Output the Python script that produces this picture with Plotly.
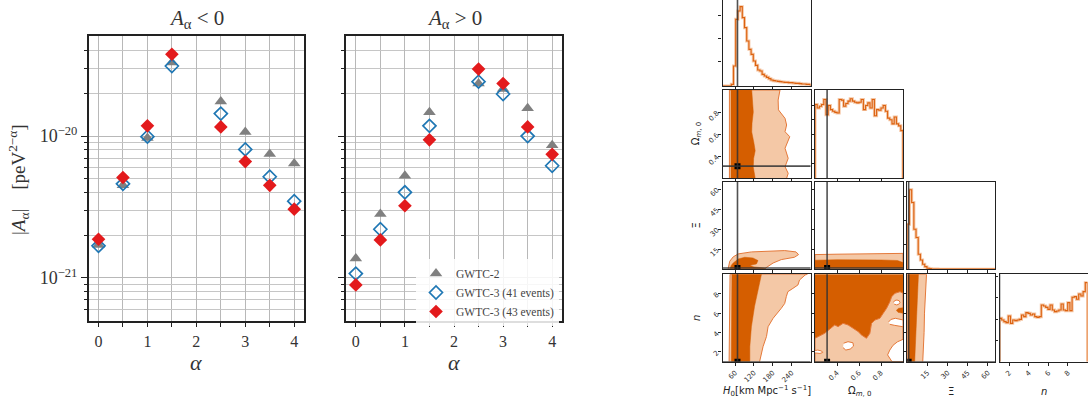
import plotly.graph_objects as go

# ================= data: left panels (amplitude bounds) =================
alpha = [0, 0.5, 1, 1.5, 2.5, 3, 3.5, 4]
neg_gwtc2 = [1.70e-21, 4.50e-21, 9.70e-21, 3.30e-20, 1.75e-20, 1.07e-20, 7.46e-21, 6.40e-21]
neg_gwtc3_41 = [1.68e-21, 4.60e-21, 9.90e-21, 3.12e-20, 1.44e-20, 8.05e-21, 5.16e-21, 3.47e-21]
neg_gwtc3_43 = [1.87e-21, 5.10e-21, 1.18e-20, 3.78e-20, 1.16e-20, 6.60e-21, 4.49e-21, 3.05e-21]
pos_gwtc2 = [1.37e-21, 2.82e-21, 5.25e-21, 1.47e-20, 2.35e-20, 2.15e-20, 1.57e-20, 8.60e-21]
pos_gwtc3_41 = [1.07e-21, 2.20e-21, 4.01e-21, 1.18e-20, 2.42e-20, 1.98e-20, 1.00e-20, 6.17e-21]
pos_gwtc3_43 = [8.90e-22, 1.85e-21, 3.22e-21, 9.40e-21, 2.97e-20, 2.35e-20, 1.16e-20, 7.43e-21]
series_labels = ["GWTC-2", "GWTC-3 (41 events)", "GWTC-3 (43 events)"]
panel_titles = ["<i>A</i><sub>α</sub> &lt; 0", "<i>A</i><sub>α</sub> &gt; 0"]
alpha_ticks = [0, 1, 2, 3, 4]
amp_major = [1e-21, 1e-20]
amp_major_text = ["10<sup>−21</sup>", "10<sup>−20</sup>"]
amp_minor = [6e-22, 7e-22, 8e-22, 9e-22, 2e-21, 3e-21, 4e-21, 5e-21, 6e-21, 7e-21,
             8e-21, 9e-21, 2e-20, 3e-20, 4e-20]

# ================= data: corner plot =================
param_ranges = {"H0": [20, 300], "Om": [0.2, 1.0], "Xi": [0, 65.5], "n": [1, 10]}
param_ticks = {"H0": [60, 120, 180, 240], "Om": [0.4, 0.6, 0.8], "Xi": [15, 30, 45, 60], "n": [2, 4, 6, 8]}
param_ticktext = {"H0": ["60", "120", "180", "240"], "Om": ["0.4", "0.6", "0.8"],
                  "Xi": ["15", "30", "45", "60"], "n": ["2", "4", "6", "8"]}
param_labels = {"H0": "<i>H</i><sub>0</sub>[km Mpc<sup>−1</sup> s<sup>−1</sup>]",
                "Om": "Ω<sub><i>m</i>, 0</sub>", "Xi": "Ξ", "n": "<i>n</i>"}
truth = {"H0": 67.7, "Om": 0.31, "Xi": 1.0, "n": 1.0}

hist_start = {"H0": 20, "Om": 0.2, "Xi": 0.0, "n": 1.0}
hist_width = {"H0": 7, "Om": 0.02, "Xi": 1.625, "n": 0.225}
h0_hist = [0, 0, 0, 0, 5, 60, 200, 225, 238, 205, 175, 135, 110, 95, 75, 62, 48, 45, 35, 30,
           26, 22, 18, 16, 15, 14, 13, 12, 11, 11, 10, 10, 9, 8, 8, 7, 6, 6, 5, 5]
om_hist = [218, 208, 213, 218, 233, 188, 215, 203, 198, 195, 193, 233, 231, 213, 221, 228, 235, 228, 225, 223,
           225, 233, 203, 215, 223, 208, 233, 185, 203, 201, 208, 215, 198, 178, 173, 161, 181, 161, 155, 141]
xi_hist = [135, 238, 200, 120, 95, 45, 28, 15, 8, 3, 2, 1, 1, 1, 0.5, 0.5, 0.5, 0.5, 0.5, 0.5,
           0.5, 0.5, 0.5, 0.5, 0.5, 0.5, 0.5, 0.5, 0.5, 0.5, 0.5, 0.5, 0.5, 0.5, 0.5, 0.5, 0.5, 0.5, 0.5, 0.5]
n_hist = [130, 125, 120, 117, 137, 115, 125, 123, 125, 127, 140, 135, 147, 145, 140, 143, 135, 133, 135, 170,
          167, 163, 157, 170, 155, 150, 152, 155, 173, 155, 153, 177, 153, 193, 195, 187, 203, 197, 210, 237]
hist_counts = {"H0": h0_hist, "Om": om_hist, "Xi": xi_hist, "n": n_hist}
hist_ymax = {"H0": 258, "Om": 261, "Xi": 262, "n": 262}
hist_yticks = {"H0": [73, 143, 213], "Om": [43, 86, 130, 173, 215], "Xi": [73, 145, 218], "n": [65, 127, 192, 255]}

# 2D credible regions (outer = light, inner = dark)
h0_om_light_x = [42, 42, 203, 200, 197, 198, 219, 224, 219, 234, 224, 219, 229, 219, 229, 224]
h0_om_light_y = [0.2, 1.0, 1.0, 0.95, 0.909, 0.82, 0.743, 0.683, 0.622, 0.577, 0.517, 0.472, 0.381, 0.305, 0.245, 0.2]
h0_om_dark_x = [47, 47, 113, 116, 118, 114, 113, 120, 124, 119, 118, 124]
h0_om_dark_y = [0.2, 1.0, 1.0, 0.9, 0.8, 0.7, 0.62, 0.52, 0.45, 0.38, 0.3, 0.2]

h0_xi_light_x = [38, 43, 54, 70, 112, 165, 218, 254, 262, 249, 207, 181, 165, 154]
h0_xi_light_y = [0.45, 6.0, 9.3, 11.5, 13.0, 13.3, 14.0, 13.0, 11.0, 9.0, 7.25, 4.7, 2.2, 0.45]
h0_xi_dark_x = [44, 48, 54, 70, 91, 117, 133, 128, 107, 120, 150, 158]
h0_xi_dark_y = [0.45, 3.0, 4.7, 7.75, 9.0, 8.5, 6.5, 4.0, 3.0, 1.8, 1.0, 0.45]

om_xi_light_x = [0.2, 0.2, 0.4, 0.6, 0.8, 1.0, 1.0]
om_xi_light_y = [0.3, 11.0, 11.3, 11.6, 11.8, 11.9, 0.3]
om_xi_dark_x = [0.2, 0.2, 0.4, 0.6, 0.8, 0.95, 0.99, 1.0, 1.0]
om_xi_dark_y = [0.6, 6.8, 7.2, 7.3, 7.0, 6.6, 5.5, 5.0, 0.6]

h0_n_light_x = [41, 44, 290, 283, 265, 260, 244, 228, 223, 218, 207, 191, 181, 165, 160, 149, 140, 138]
h0_n_light_y = [1.0, 10.0, 10.0, 9.93, 9.41, 8.9, 8.55, 8.21, 7.7, 7.0, 6.5, 5.8, 5.47, 4.6, 3.6, 2.55, 1.5, 1.0]
h0_n_dark_x = [48, 50, 144, 133, 122, 112, 107, 107]
h0_n_dark_y = [1.0, 10.0, 10.0, 8.4, 6.7, 4.6, 2.55, 1.0]

om_n_dark_x = [0.2, 0.2, 1.0, 1.0]
om_n_dark_y = [1.0, 10.0, 10.0, 1.0]
om_n_light_x = [0.2, 0.2, 0.288, 0.349, 0.379, 0.41, 0.455, 0.501, 0.547, 0.592, 0.623, 0.668, 0.699,
                0.714, 0.745, 0.79, 0.82, 0.851, 0.881, 0.897, 0.927, 0.973, 1.0, 1.0]
om_n_light_y = [1.0, 3.41, 3.92, 4.44, 4.78, 4.61, 4.95, 4.78, 4.44, 4.1, 3.75, 3.41, 3.92,
                4.95, 5.29, 5.47, 5.98, 6.5, 7.18, 7.7, 8.04, 8.21, 8.04, 1.0]
om_n_finger_x = [1.0, 0.955, 0.94, 0.96, 1.0]
om_n_finger_y = [6.0, 6.08, 6.3, 6.5, 6.55]
om_n_holes_x = [
    [0.913, 0.925, 0.945, 0.965, 0.973, 0.96, 0.94, 0.92],
    [0.87, 0.89, 0.93, 0.97, 1.0, 1.0, 0.96, 0.92, 0.88],
    [1.0, 0.95, 0.91, 0.88, 0.86, 0.88, 0.9, 1.0],
    [0.46, 0.5, 0.545, 0.55, 0.52, 0.48, 0.455],
    [0.2, 0.225, 0.26, 0.27, 0.245, 0.2],
]
om_n_holes_y = [
    [7.1, 7.3, 7.35, 7.28, 7.1, 6.9, 6.85, 6.93],
    [5.1, 5.35, 5.47, 5.4, 5.3, 4.6, 4.65, 4.75, 4.85],
    [3.3, 3.05, 2.7, 2.2, 1.7, 1.3, 1.0, 1.0],
    [2.9, 3.06, 2.95, 2.6, 2.3, 2.2, 2.45],
    [2.15, 2.2, 2.1, 1.95, 1.85, 1.9],
]

xi_n_light_x = [0.0, 0.0, 14.3, 13.5, 12.8, 12.5, 12.0, 11.5]
xi_n_light_y = [1.0, 10.0, 10.0, 8.0, 6.0, 4.0, 2.0, 1.0]
xi_n_dark_x = [0.5, 0.5, 8.3, 7.6, 6.8, 6.2, 5.7, 5.5]
xi_n_dark_y = [1.0, 10.0, 10.0, 8.0, 6.0, 4.0, 2.0, 1.0]

# ================= styling =================
W, H = 1088, 398
SERIF = "Liberation Serif"
SANS = "DejaVu Sans"
GRAY, BLUE, RED = "#808080", "#1f77b4", "#e31a1c"
DARK, LIGHT, EDGE = "#d55e00", "#f4c8a6", "#e4793a"
HLINE, HBAND = "#dc6210", "#f5c6a4"


def fx(px):
    return px / W


def fy(py):
    return 1 - py / H


fig = go.Figure()
layout = dict(width=W, height=H, margin=dict(l=0, r=0, t=0, b=0),
              paper_bgcolor="white", plot_bgcolor="white", showlegend=True)
annotations = []
shapes = []


def add_text(text, px, py, size, family, angle=0, color="#333"):
    annotations.append(dict(text=text, x=fx(px), y=fy(py), xref="paper", yref="paper",
                            xanchor="center", yanchor="middle", showarrow=False, textangle=angle,
                            font=dict(family=family, size=size, color=color)))


# ---------------- left panels ----------------
left_dom_x = [[88.7, 304.0], [346.0, 562.0]]
left_dom_y = [fy(320.7), fy(36.0)]
panel_data = [(neg_gwtc2, neg_gwtc3_41, neg_gwtc3_43), (pos_gwtc2, pos_gwtc3_41, pos_gwtc3_43)]
for p in range(2):
    sfx = "" if p == 0 else "2"
    g2, g41, g43 = panel_data[p]
    show = p == 1
    fig.add_trace(go.Scatter(x=alpha, y=g2, mode="markers", name=series_labels[0], showlegend=show,
                             marker=dict(symbol="triangle-up", size=11, color=GRAY),
                             xaxis="x" + sfx, yaxis="y" + sfx))
    fig.add_trace(go.Scatter(x=alpha, y=g41, mode="markers", name=series_labels[1], showlegend=show,
                             marker=dict(symbol="diamond-open", size=10, color=BLUE, line=dict(width=1.7, color=BLUE)),
                             xaxis="x" + sfx, yaxis="y" + sfx))
    fig.add_trace(go.Scatter(x=alpha, y=g43, mode="markers", name=series_labels[2], showlegend=show,
                             marker=dict(symbol="diamond", size=10.5, color=RED),
                             xaxis="x" + sfx, yaxis="y" + sfx))
    layout["xaxis" + sfx] = dict(domain=[fx(left_dom_x[p][0]), fx(left_dom_x[p][1])], anchor="y" + sfx,
                                 range=[-0.2, 4.2], tickvals=alpha_ticks,
                                 ticks="outside", ticklen=5, tickwidth=1.2, tickcolor="#222",
                                 showline=True, linecolor="#222", linewidth=1.5, mirror=True,
                                 showgrid=True, gridcolor="#b8b8b8", gridwidth=1, zeroline=False,
                                 tickfont=dict(family=SERIF, size=16, color="#333"),
                                 minor=dict(dtick=0.5, tick0=0, ticks="outside", ticklen=5, tickwidth=1.2,
                                            tickcolor="#222", showgrid=True, gridcolor="#b8b8b8", gridwidth=1))
    layout["yaxis" + sfx] = dict(domain=left_dom_y, anchor="x" + sfx, type="log",
                                 range=[-21.303, -19.294], tickvals=amp_major, ticktext=amp_major_text,
                                 showticklabels=(p == 0),
                                 ticks="outside", ticklen=6, tickwidth=1.2, tickcolor="#222",
                                 showline=True, linecolor="#222", linewidth=1.5, mirror=True,
                                 showgrid=True, gridcolor="#b8b8b8", gridwidth=1, zeroline=False,
                                 tickfont=dict(family=SERIF, size=18, color="#333"),
                                 minor=dict(tickvals=amp_minor, ticks="outside", ticklen=3, tickwidth=1.2,
                                            tickcolor="#222", showgrid=True, gridcolor="#c6c6c6", gridwidth=1))
    cx = (left_dom_x[p][0] + left_dom_x[p][1]) / 2
    add_text(panel_titles[p], cx, 19, 21, SERIF)
    add_text("<i>α</i>", cx, 362, 22, SERIF)

add_text("|<i>A</i><sub>α</sub>|\u00a0\u00a0\u00a0\u00a0[peV<sup>2−α</sup>]", 19, 180, 19, SERIF, angle=-90)

layout["legend"] = dict(x=fx(416), y=fy(259), xanchor="left", yanchor="top",
                        bgcolor="rgba(255,255,255,0.85)", borderwidth=0, itemwidth=30,
                        tracegroupgap=0, font=dict(family=SERIF, size=11.5, color="#444"))

# ---------------- corner plot ----------------
params = ["H0", "Om", "Xi", "n"]
col_left = [722.5, 815.0, 907.3, 999.5]
col_w = 88.0
row_top = [0.0, 90.0, 181.7, 274.3]
row_bot = [86.0, 178.3, 269.3, 361.7]
cells = [(0, 0), (1, 0), (1, 1), (2, 0), (2, 1), (2, 2), (3, 0), (3, 1), (3, 2), (3, 3)]

regions = {
    (1, 0): [(h0_om_light_x, h0_om_light_y, LIGHT, EDGE), (h0_om_dark_x, h0_om_dark_y, DARK, None)],
    (2, 0): [(h0_xi_light_x, h0_xi_light_y, LIGHT, EDGE), (h0_xi_dark_x, h0_xi_dark_y, DARK, None)],
    (2, 1): [(om_xi_light_x, om_xi_light_y, LIGHT, EDGE), (om_xi_dark_x, om_xi_dark_y, DARK, None)],
    (3, 0): [(h0_n_light_x, h0_n_light_y, LIGHT, EDGE), (h0_n_dark_x, h0_n_dark_y, DARK, None)],
    (3, 1): [(om_n_dark_x, om_n_dark_y, DARK, None), (om_n_light_x, om_n_light_y, LIGHT, EDGE),
             (om_n_finger_x, om_n_finger_y, DARK, None)]
            + [(hx, hy, "white", EDGE) for hx, hy in zip(om_n_holes_x, om_n_holes_y)],
    (3, 2): [(xi_n_light_x, xi_n_light_y, LIGHT, EDGE), (xi_n_dark_x, xi_n_dark_y, DARK, None)],
}

tickfont_c = dict(family=SANS, size=7, color="#333")
for idx, (r, c) in enumerate(cells):
    k = str(idx + 3)
    xa, ya = "x" + k, "y" + k
    xp = params[c]
    xdom = [fx(col_left[c]), fx(col_left[c] + col_w)]
    ydom = [fy(row_bot[r]), fy(row_top[r])]
    if r == c:
        counts = hist_counts[xp]
        lo, w = hist_start[xp], hist_width[xp]
        xs = [lo] + [lo + i * w for i in range(len(counts))] + [lo + len(counts) * w] * 2
        ys = [0] + list(counts) + [counts[-1], 0]
        fig.add_trace(go.Scatter(x=xs, y=ys, mode="lines", line=dict(shape="hv", color=HBAND, width=3),
                                 showlegend=False, hoverinfo="skip", xaxis=xa, yaxis=ya))
        fig.add_trace(go.Scatter(x=xs, y=ys, mode="lines", line=dict(shape="hv", color=HLINE, width=1.1),
                                 showlegend=False, hoverinfo="skip", xaxis=xa, yaxis=ya))
        yrange = [0, hist_ymax[xp]]
        ytv, ytt, yshow = hist_yticks[xp], None, False
    else:
        yp = params[r]
        for px_, py_, fcol, ecol in regions[(r, c)]:
            fig.add_trace(go.Scatter(x=px_, y=py_, mode="lines", fill="toself", fillcolor=fcol,
                                     line=dict(color=ecol if ecol else fcol, width=1 if ecol else 0.5),
                                     showlegend=False, hoverinfo="skip", xaxis=xa, yaxis=ya))
        fig.add_trace(go.Scatter(x=[truth[xp]], y=[truth[yp]], mode="markers",
                                 marker=dict(symbol="square", size=6, color="black"),
                                 showlegend=False, hoverinfo="skip", xaxis=xa, yaxis=ya))
        yrange = param_ranges[yp]
        ytv, ytt, yshow = param_ticks[yp], param_ticktext[yp], c == 0
        shapes.append(dict(type="line", xref=xa + " domain", yref=ya, x0=0, x1=1, y0=truth[yp], y1=truth[yp],
                           line=dict(color="rgba(50,50,50,0.85)", width=1.6), layer="above"))
    shapes.append(dict(type="line", xref=xa, yref=ya + " domain", x0=truth[xp], x1=truth[xp], y0=0, y1=1,
                       line=dict(color="rgba(50,50,50,0.85)", width=1.6), layer="above"))
    layout["xaxis" + k] = dict(domain=xdom, anchor=ya, range=param_ranges[xp], tickvals=param_ticks[xp],
                               ticktext=param_ticktext[xp], showticklabels=(r == 3), tickangle=-45,
                               ticks="outside", ticklen=3, tickwidth=1, tickcolor="#222",
                               showline=True, linecolor="#222", linewidth=1.3, mirror=(r != 0),
                               showgrid=False, zeroline=False, tickfont=tickfont_c)
    ydict = dict(domain=ydom, anchor=xa, range=yrange, tickvals=ytv, showticklabels=yshow, tickangle=-45,
                 ticks="outside", ticklen=3, tickwidth=1, tickcolor="#222",
                 showline=True, linecolor="#222", linewidth=1.3, mirror=True,
                 showgrid=False, zeroline=False, tickfont=tickfont_c)
    if ytt is not None:
        ydict["ticktext"] = ytt
    layout["yaxis" + k] = ydict

# corner axis labels
for c, p in enumerate(params):
    add_text(param_labels[p], col_left[c] + col_w / 2, 391, 10, SANS, color="#222")
for r in (1, 2, 3):
    add_text(param_labels[params[r]], 696, (row_top[r] + row_bot[r]) / 2, 10, SANS, angle=-90, color="#222")

layout["annotations"] = annotations
layout["shapes"] = shapes
fig.update_layout(**layout)
fig.write_html("out.html", config={"displayModeBar": False},
               post_script="document.body.style.margin='0';document.body.style.overflow='hidden';")
